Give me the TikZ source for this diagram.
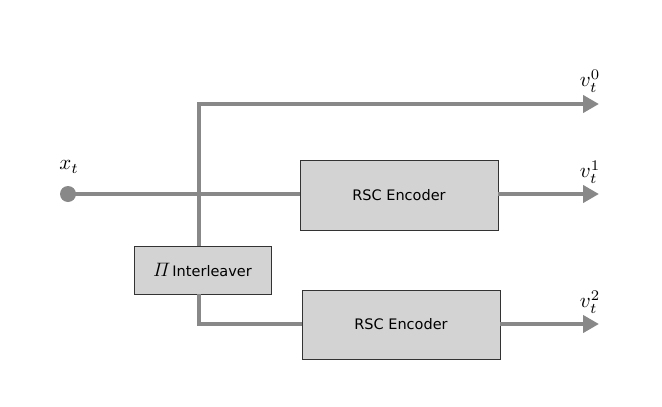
\documentclass[tikz,border=0pt]{standalone}
\usepackage{amsmath}
\usepackage{fontspec}
\setmainfont{DejaVu Sans}
\usetikzlibrary{arrows.meta}
\definecolor{wire}{HTML}{888888}
\definecolor{boxfill}{HTML}{D3D3D3}
\definecolor{boxline}{HTML}{333333}
\newcommand{\biglab}[1]{\scalebox{2.1}{$#1$}}
\begin{document}
\begin{tikzpicture}[x=1pt,y=-1pt,
  wireline/.style={draw=wire,line width=4pt},
  arr/.style={wireline,-{Triangle[length=16pt,width=17pt]}},
  block/.style={draw=boxline,fill=boxfill,line width=0.8pt,inner sep=0pt,
    font=\fontsize{14.5}{17}\selectfont},
  lab/.style={inner sep=0pt}]
\useasboundingbox (0,0) rectangle (662,407);
% nodes
\node[circle,fill=wire,minimum size=16pt,inner sep=0pt] (in) at (68,194) {};
\node[lab] (xl) at (69,167) {\biglab{x_t}};
\node[block,minimum width=198pt,minimum height=70pt] (enc1) at (399,195) {RSC Encoder};
\node[block,minimum width=198pt,minimum height=69pt] (enc2) at (401,324.5) {RSC Encoder};
\node[block,minimum width=137pt,minimum height=48pt] (inter) at (202.5,270) {\scalebox{1.35}{$\varPi$}\hspace{2pt}Interleaver};
\coordinate (top) at (199,104);
\coordinate (bot) at (199,324);
\coordinate (o0) at (599,104);
\coordinate (o1) at (599,194);
\coordinate (o2) at (599,324);
\node[lab] (v0) at (590,81) {\biglab{v_t^0}};
\node[lab] (v1) at (590,172) {\biglab{v_t^1}};
\node[lab] (v2) at (590,302) {\biglab{v_t^2}};
% connectors
\draw[wireline] (in.center) -- (enc1.west |- in);
\draw[arr] (inter.north -| top) -- (top) -- (o0);
\draw[wireline] (inter.south -| bot) -- (bot) -- (enc2.west |- bot);
\draw[arr] (enc1.east |- o1) -- (o1);
\draw[arr] (enc2.east |- o2) -- (o2);
\end{tikzpicture}
\end{document}
